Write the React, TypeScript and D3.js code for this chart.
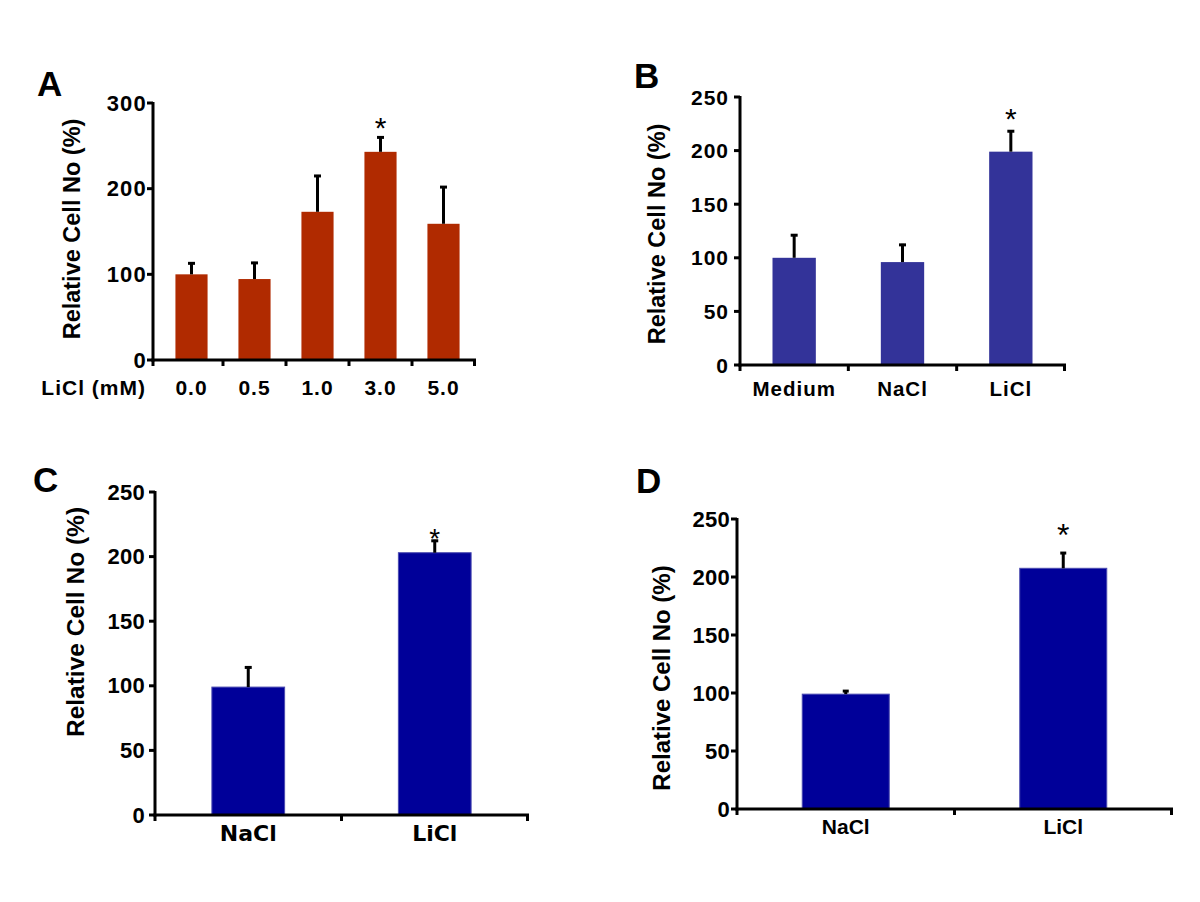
import React from "react";
import * as d3 from "d3";

// ---------- Data ----------
const aCategories = ["0.0", "0.5", "1.0", "3.0", "5.0"];
const aValues = [100, 94.5, 173, 243, 159];
const aErrors = [14, 20, 43, 18, 44];
const aTicks = [0, 100, 200, 300];
const aSig = [null, null, null, 279, null];

const bCategories = ["Medium", "NaCl", "LiCl"];
const bValues = [100, 96, 199];
const bErrors = [22, 17, 20];
const bTicks = [0, 50, 100, 150, 200, 250];
const bSig = [null, null, 236];

const cCategories = ["NaCl", "LiCl"];
const cValues = [99, 203];
const cErrors = [16, 10];
const cTicks = [0, 50, 100, 150, 200, 250];
const cSig = [null, 219];

const dCategories = ["NaCl", "LiCl"];
const dValues = [99, 207.5];
const dErrors = [3.5, 14];
const dTicks = [0, 50, 100, 150, 200, 250];
const dSig = [null, 242];

const ARIAL = "'Liberation Sans', Arial, Helvetica, sans-serif";
const VERDANA = "'DejaVu Sans', Verdana, sans-serif";

type PanelProps = {
  letter: string;
  letterPos: [number, number];
  categories: string[];
  values: number[];
  errors: number[];
  ticks: number[];
  sig: (number | null)[];
  yMax: number;
  x0: number;
  xRange: [number, number];
  axisEnd: number;
  yRange: [number, number];
  barFrac: number;
  color: string;
  stroke?: string;
  tickFont: number;
  tickSpacing: number;
  tickGap: number;
  labelFont: number;
  labelFamily: string;
  labelSpacing: number;
  labelDy: number;
  titleX: number;
  titleY: number;
  titleFont: number;
  xTitle?: string;
  xTitleRight?: number;
  capW: number;
  sigFont: number;
};

function Panel(p: PanelProps) {
  const y = d3.scaleLinear().domain([0, p.yMax]).range(p.yRange);
  const x = d3.scaleBand<string>().domain(p.categories).range(p.xRange).padding(0);
  const bw = x.bandwidth() * p.barFrac;
  const y0 = y(0);
  const boundaries = p.categories.map((c) => (x(c) as number) + x.bandwidth());
  return (
    <g>
      <text x={p.letterPos[0]} y={p.letterPos[1]} fontFamily={ARIAL} fontWeight="bold" fontSize={35}>
        {p.letter}
      </text>
      {p.categories.map((c, i) => {
        const cx = (x(c) as number) + x.bandwidth() / 2;
        const top = y(p.values[i]);
        const et = y(p.values[i] + p.errors[i]);
        return (
          <g key={c}>
            <rect
              x={cx - bw / 2}
              y={top}
              width={bw}
              height={y0 - top}
              fill={p.color}
              stroke={p.stroke || "none"}
              strokeWidth={p.stroke ? 1 : 0}
            />
            <line x1={cx} x2={cx} y1={top} y2={et} stroke="#000" strokeWidth={3} />
            <line x1={cx - p.capW / 2} x2={cx + p.capW / 2} y1={et + 1} y2={et + 1} stroke="#000" strokeWidth={3} />
            {p.sig[i] != null && (
              <text
                x={cx}
                y={y(p.sig[i] as number) + p.sigFont * 0.56}
                textAnchor="middle"
                fontFamily={ARIAL}
                fontSize={p.sigFont}
                fill="#000"
              >
                *
              </text>
            )}
          </g>
        );
      })}
      <line x1={p.x0} x2={p.x0} y1={y(p.yMax) - 1} y2={y0 + 1.5} stroke="#000" strokeWidth={3} />
      {p.ticks.map((t) => (
        <g key={t}>
          <line x1={p.x0 - 6} x2={p.x0} y1={y(t)} y2={y(t)} stroke="#000" strokeWidth={3} />
          <text
            x={p.x0 - p.tickGap}
            y={y(t)}
            textAnchor="end"
            dominantBaseline="central"
            fontFamily={ARIAL}
            fontWeight="bold"
            fontSize={p.tickFont}
            letterSpacing={p.tickSpacing}
          >
            {t}
          </text>
        </g>
      ))}
      <line x1={p.x0 - 1.5} x2={p.axisEnd} y1={y0} y2={y0} stroke="#000" strokeWidth={3} />
      <line x1={p.x0} x2={p.x0} y1={y0} y2={y0 + 6} stroke="#000" strokeWidth={3} />
      {boundaries.map((b, i) => (
        <line
          key={i}
          x1={Math.min(b, p.axisEnd - 1.5)}
          x2={Math.min(b, p.axisEnd - 1.5)}
          y1={y0}
          y2={y0 + 6}
          stroke="#000"
          strokeWidth={3}
        />
      ))}
      {p.categories.map((c) => (
        <text
          key={c}
          x={(x(c) as number) + x.bandwidth() / 2}
          y={y0 + p.labelDy}
          textAnchor="middle"
          dominantBaseline="central"
          fontFamily={p.labelFamily}
          fontWeight="bold"
          fontSize={p.labelFont}
          letterSpacing={p.labelSpacing}
        >
          {c}
        </text>
      ))}
      {p.xTitle && (
        <text
          x={p.xTitleRight}
          y={y0 + p.labelDy}
          textAnchor="end"
          dominantBaseline="central"
          fontFamily={ARIAL}
          fontWeight="bold"
          fontSize={p.labelFont}
          letterSpacing={p.labelSpacing}
        >
          {p.xTitle}
        </text>
      )}
      <text
        transform={`translate(${p.titleX + p.titleFont * 0.35},${p.titleY}) rotate(-90)`}
        textAnchor="middle"
        fontFamily={ARIAL}
        fontWeight="bold"
        fontSize={p.titleFont}
      >
        Relative Cell No (%)
      </text>
    </g>
  );
}

export default function App() {
  return (
    <svg width={1200} height={902} style={{ position: "absolute", left: 0, top: 0, background: "#fff" }}>
      <rect x={0} y={0} width={1200} height={902} fill="#fff" />
      <Panel
        letter="A"
        letterPos={[37, 96]}
        categories={aCategories}
        values={aValues}
        errors={aErrors}
        ticks={aTicks}
        sig={aSig}
        yMax={300}
        x0={153}
        xRange={[160, 475]}
        axisEnd={476}
        yRange={[360, 103]}
        barFrac={0.51}
        color="#B02A00"
        tickFont={22}
        tickSpacing={1.2}
        tickGap={6}
        labelFont={21}
        labelFamily={ARIAL}
        labelSpacing={1}
        labelDy={27}
        titleX={72}
        titleY={229}
        titleFont={23.5}
        xTitle="LiCl (mM)"
        xTitleRight={146}
        capW={7}
        sigFont={30}
      />
      <Panel
        letter="B"
        letterPos={[634, 88]}
        categories={bCategories}
        values={bValues}
        errors={bErrors}
        ticks={bTicks}
        sig={bSig}
        yMax={250}
        x0={740}
        xRange={[740, 1065]}
        axisEnd={1066}
        yRange={[365, 97]}
        barFrac={0.4}
        color="#333399"
        tickFont={21}
        tickSpacing={1}
        tickGap={11}
        labelFont={20.5}
        labelFamily={ARIAL}
        labelSpacing={1}
        labelDy={23}
        titleX={657}
        titleY={234}
        titleFont={23.5}
        capW={7}
        sigFont={30}
      />
      <Panel
        letter="C"
        letterPos={[33, 492]}
        categories={cCategories}
        values={cValues}
        errors={cErrors}
        ticks={cTicks}
        sig={cSig}
        yMax={250}
        x0={155}
        xRange={[155, 528]}
        axisEnd={529}
        yRange={[815, 492]}
        barFrac={0.39}
        color="#000099"
        stroke="#4a4ab0"
        tickFont={22}
        tickSpacing={0.3}
        tickGap={10}
        labelFont={22}
        labelFamily={VERDANA}
        labelSpacing={0}
        labelDy={18.5}
        titleX={75}
        titleY={622}
        titleFont={24.5}
        capW={7}
        sigFont={28}
      />
      <Panel
        letter="D"
        letterPos={[636, 493]}
        categories={dCategories}
        values={dValues}
        errors={dErrors}
        ticks={dTicks}
        sig={dSig}
        yMax={250}
        x0={737}
        xRange={[737, 1172]}
        axisEnd={1173}
        yRange={[809, 519]}
        barFrac={0.4}
        color="#000099"
        stroke="#4a4ab0"
        tickFont={22}
        tickSpacing={0.3}
        tickGap={7}
        labelFont={21}
        labelFamily={ARIAL}
        labelSpacing={0}
        labelDy={17}
        titleX={662}
        titleY={678}
        titleFont={24}
        capW={6}
        sigFont={32}
      />
    </svg>
  );
}
